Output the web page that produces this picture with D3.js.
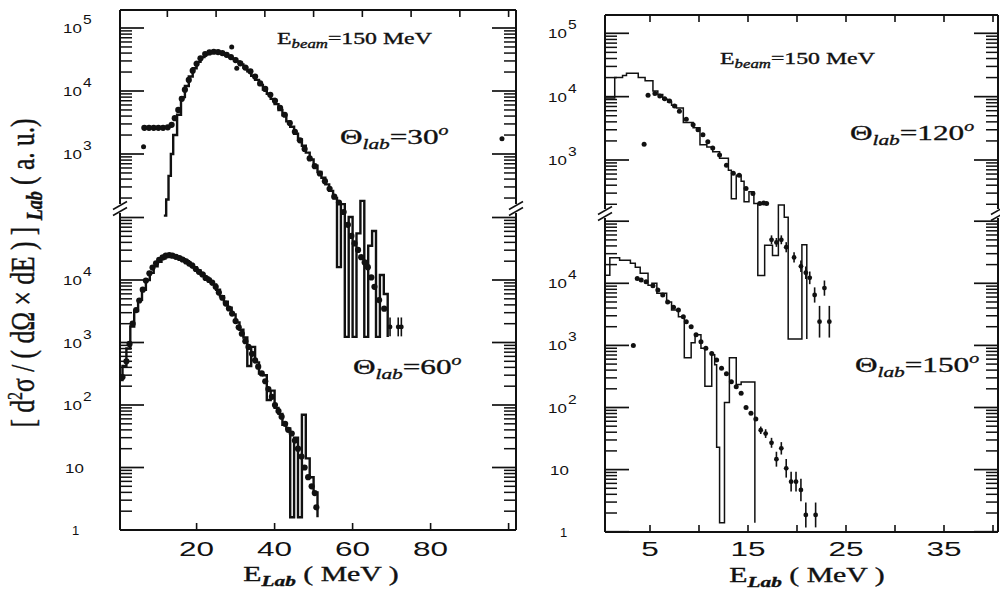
<!DOCTYPE html>
<html><head><meta charset="utf-8">
<script src="https://cdn.jsdelivr.net/npm/d3@7"></script>
<style>body{margin:0;background:#fff}svg{display:block}</style>
</head><body>
<svg id="c" width="1000" height="613"></svg>
<script>
// ---------------- DATA ----------------
// Left panel, theta = 30 deg (values in the units of the upper axis labels)
const dots30 = [[6.6,2600],[7.8,2600],[9.0,2600],[10.2,2600],[11.4,2600],[12.6,2650],[13.6,2900],[14.4,3700],[15.3,5000],[16.2,7500],[17.0,10500],[18.0,15000],[19.0,21000],[20.0,27000],[21.0,33000],[22.2,38500],[23.3,41000],[24.4,42000],[25.5,41500],[26.6,40000],[27.7,37500],[28.8,34500],[30.0,31000],[31.2,27500],[32.5,23500],[33.8,20500],[35.0,17000],[36.3,13200],[37.6,10800],[38.9,8700],[40.1,7000],[41.4,5400],[42.6,4200],[43.9,3100],[45.2,2250],[46.5,1650],[47.7,1200],[49.0,850],[50.3,640],[51.6,490],[52.9,370],[54.1,280],[55.3,210],[56.5,170],[57.7,120],[58.8,75],[59.7,50],[60.5,38],[61.4,30],[62.2,23],[63.1,19],[63.9,16],[64.8,11],[65.6,7.8],[66.8,4.8],[68.1,3.5]];
const dots30Err = [[69.6,1.8,0.15],[71.7,1.8,0.15],[72.5,1.8,0.15]];
const dots30Lone = [[6.4,1300],[29.0,50000],[30.3,23000],[98.3,1740]];
const hist30 = [[11.6,105],[12.2,190],[12.8,450],[13.4,1000],[14,2000],[15,4200],[16,8000],[17,12000],[18,17000],[19,23000],[20,29000],[21,34500],[22,38500],[23,41000],[24,42000],[25,41500],[26,40000],[27,38000],[28,35500],[29,32500],[30,29500],[31,26500],[32,23500],[33,20500],[34,17500],[35,15000],[36,12500],[37,10500],[38,9000],[39,7500],[40,6200],[41,5000],[42,4100],[43,3300],[44,2700],[45,2100],[46,1700],[47,1350],[48,1050],[49,820],[50,650],[51,520],[52,420],[53,330],[54,260],[55,200],[56,16],[57,160],[58,1.25],[59,100],[60,1.25],[61,55],[62,180],[63,1.25],[64,35],[65,60],[66,1.25],[67,12],[68,6],[69,1.25]];

// Left panel, theta = 60 deg (lower axis units)
const dots60 = [[1.0,280],[2.0,500],[2.8,950],[3.6,2000],[4.5,3300],[5.3,4700],[6.2,7000],[7.0,9800],[7.9,12800],[8.7,15800],[9.6,18500],[10.4,21000],[11.3,23000],[12.1,24500],[13.0,25000],[13.8,24500],[14.7,23500],[15.6,22500],[16.4,21300],[17.3,19800],[18.1,18300],[18.9,17000],[19.8,15000],[20.6,13500],[21.5,12300],[22.3,10800],[23.2,10000],[24.0,9100],[24.9,7800],[25.7,6300],[26.6,5200],[27.5,4200],[28.3,3500],[29.1,2900],[30.0,2200],[30.8,1750],[31.6,1380],[32.5,1050],[33.3,850],[34.2,660],[35.0,520],[35.8,410],[36.7,320],[37.6,240],[38.4,180],[39.3,135],[40.1,100],[41.0,80],[41.8,65],[42.7,50],[43.5,40],[44.4,35],[45.2,27],[46.0,20],[46.9,15],[47.7,10],[48.6,7],[49.5,5],[50.3,3.9],[50.7,2.3]];
const hist60 = [[0.3,250],[1,420],[2,800],[3,1800],[4,3200],[5,4800],[6,7000],[7,10000],[8,13000],[9,16500],[10,19500],[11,22000],[12,24000],[13,24800],[14,24200],[15,23000],[16,21500],[17,20000],[18,18000],[19,16000],[20,14200],[21,12500],[22,11000],[23,9600],[24,8500],[25,7000],[26,5500],[27,4500],[28,3600],[29,2800],[30,2100],[31,1600],[32,1200],[33,420],[34,850],[35,480],[36,320],[37,300],[38,120],[39,170],[40,90],[41,72],[42,48],[43,42],[44,1.6],[45,30],[46,1.6],[47,70],[48,14],[49,7],[50,4],[51,1.6]];

// Right panel, theta = 120 deg (upper axis units)
const dots120 = [[4.8,10500],[5.5,11200],[6.0,10200],[6.5,9300],[7.0,8500],[7.5,7100],[8.0,5900],[8.7,4400],[9.4,3600],[9.9,3000],[10.4,2500],[10.9,1950],[11.4,1550],[12.1,1200],[12.8,830],[13.5,620],[14.1,575],[14.8,355],[15.5,295],[16.2,205],[16.6,210],[16.9,205]];
const dots120Err = [[17.4,55,0.07],[17.9,50,0.07],[18.4,55,0.07],[18.9,42,0.08],[19.7,29,0.08],[20.4,21,0.09],[20.9,16.6,0.1],[21.3,13.8,0.1],[21.8,7.4,0.12],[22.8,9.5,0.12],[22.3,2.8,0.25],[23.3,2.8,0.25]];
const dots120Lone = [[4.4,1780]];
const hist120 = [[0.4,9500],[1.4,20000],[2.2,21500],[2.6,23500],[3.8,20000],[4.5,17800],[5.3,12300],[5.8,10800],[6.3,9100],[6.8,8200],[7.2,7300],[7.7,6600],[8.4,3900],[9.4,3240],[10.1,1740],[10.8,1600],[11.4,1350],[12.1,1070],[13.0,690],[13.3,245],[13.8,575],[14.3,460],[14.6,220],[15.1,316],[15.6,205],[16.0,15],[16.7,45],[17.5,31],[18.1,195],[18.7,125],[19.1,1.5],[20.5,46],[21.0,1.5]];

// Right panel, theta = 150 deg (lower axis units)
const dots150 = [[3.7,12000],[4.1,11300],[4.6,10600],[5.3,9100],[5.8,7800],[6.3,6500],[6.8,5000],[7.4,4100],[7.9,3700],[8.4,2900],[8.7,2400],[9.2,2000],[9.7,1480],[10.2,1150],[10.7,900],[11.3,740],[11.8,580],[12.3,430],[12.8,350],[13.3,260],[13.8,215],[14.3,170],[14.8,100],[15.3,81],[15.8,65]];
const dots150Err = [[16.3,43,0.06],[16.8,38,0.07],[17.4,27,0.08],[17.9,14.7,0.12],[18.4,22,0.1],[18.9,10.5,0.15],[19.4,6.4,0.16],[19.9,6.4,0.16],[20.4,4.7,0.18],[20.9,1.86,0.2],[21.9,1.86,0.2]];
const dots150Lone = [[3.3,1000]];
const hist150 = [[0.4,13500],[0.9,25700],[1.9,23500],[3.0,21000],[3.5,18200],[4.0,14500],[4.8,9300],[5.2,10000],[5.7,6900],[6.7,5000],[7.2,3700],[7.9,2900],[8.5,630],[9.2,1100],[9.6,1480],[10.2,900],[10.6,220],[11.3,710],[11.6,490],[11.8,23],[12.1,1.4],[12.6,120],[13.1,630],[13.8,235],[14.3,257],[15.7,1.4]];

// Tick values / labels
const yLabelsUpper = [1e3,1e4,1e5];
const yLabelsLower = [1,10,1e2,1e3,1e4];
const xTicksLeftBottom = [20,40,60,80,100];
const xLabelsLeft = [20,40,60,80];
const xTicksLeftTop = [12.5,25,37.5,50,62.5,75,87.5,100];
const xTicksRight = [5,10,15,20,25,30,35,40];
const xLabelsRight = [5,15,25,35];

// ---------------- LAYOUT ----------------
const SERIF = "'Liberation Serif','Times New Roman',serif";
const SANS = "'Liberation Sans',Arial,sans-serif";
const INK = "#111";
const svg = d3.select("#c");

const panels = [
  {id:"L", left:120, right:516, top:10, bottom:530, xd:[0,100], xr:[118.6,508.6],
   up:{d:[1e3,1e5], r:[154,28], seg:[10,204]}, lo:{d:[1,1e4], r:[530,280], seg:[213,530]},
   brk:208.5, xTB:xTicksLeftBottom, xTT:xTicksLeftTop, xL:xLabelsLeft, labX:63, labX1:70},
  {id:"R", left:605, right:998, top:15, bottom:532, xd:[0,40], xr:[601,993],
   up:{d:[1e3,1e5], r:[160,33.3], seg:[15,209]}, lo:{d:[1,1e4], r:[531.7,283.3], seg:[218,532]},
   brk:213.5, xTB:xTicksRight, xTT:xTicksRight, xL:xLabelsRight, labX:548, labX1:558}
];

panels.forEach(p=>{
  p.x = d3.scaleLinear().domain(p.xd).range(p.xr);
  p.yU = d3.scaleLog().domain(p.up.d).range(p.up.r);
  p.yL = d3.scaleLog().domain(p.lo.d).range(p.lo.r);
  const g = svg.append("g");
  p.g = g;
  g.append("line").attr("x1",p.left).attr("x2",p.right).attr("y1",p.top).attr("y2",p.top).attr("stroke",INK).attr("stroke-width",2);
  g.append("line").attr("x1",p.left).attr("x2",p.right).attr("y1",p.bottom).attr("y2",p.bottom).attr("stroke",INK).attr("stroke-width",2);
  [p.left,p.right].forEach((ax,i)=>{
    g.append("line").attr("x1",ax).attr("x2",ax).attr("y1",p.top).attr("y2",p.up.seg[1]).attr("stroke",INK).attr("stroke-width",2);
    g.append("line").attr("x1",ax).attr("x2",ax).attr("y1",p.lo.seg[0]).attr("y2",p.bottom).attr("stroke",INK).attr("stroke-width",2);
    [-3,3].forEach(dy=>{
      g.append("line").attr("x1",ax-7).attr("x2",ax+7).attr("y1",p.brk+dy+4).attr("y2",p.brk+dy-4)
        .attr("stroke",INK).attr("stroke-width",1.5);
    });
    const dir = i===0 ? 1 : -1;
    [[p.yU,p.up.seg],[p.yL,p.lo.seg]].forEach(([sc,seg])=>{
      for(let n=-1;n<=6;n++){
        for(let k=1;k<=9;k++){
          const v=k*Math.pow(10,n);
          const y=sc(v);
          if(y<seg[0]-0.5||y>seg[1]+0.5) continue;
          const len = k===1?24:12;
          g.append("line").attr("x1",ax).attr("x2",ax+dir*len).attr("y1",y).attr("y2",y)
            .attr("stroke",INK).attr("stroke-width",k===1?1.7:1.5);
        }
      }
    });
  });
  p.xTB.forEach(v=>{
    const x=p.x(v); if(x>p.right+1) return;
    g.append("line").attr("x1",x).attr("x2",x).attr("y1",p.bottom).attr("y2",p.bottom-7).attr("stroke",INK).attr("stroke-width",1.6);
  });
  p.xTT.forEach(v=>{
    const x=p.x(v); if(x>p.right+1) return;
    g.append("line").attr("x1",x).attr("x2",x).attr("y1",p.top).attr("y2",p.top+7).attr("stroke",INK).attr("stroke-width",1.6);
  });
  p.xL.forEach(v=>{
    g.append("text").attr("transform",`translate(${p.x(v)},556) scale(1.5,1)`)
      .attr("text-anchor","middle").attr("font-family",SANS).attr("font-size",21).attr("fill",INK).text(v);
  });
  const ylab=(sc,v)=>{
    const y=sc(v)+5;
    const e=Math.round(Math.log10(v));
    if(e===0){
      g.append("text").attr("x",p.labX1+2).attr("y",y).attr("font-family",SANS).attr("font-size",13).attr("fill",INK).text("1");
    } else if(e===1){
      g.append("text").attr("transform",`translate(${p.labX+2},${y}) scale(1.3,1)`).attr("font-family",SANS).attr("font-size",13).attr("fill",INK).text("10");
    } else {
      const t=g.append("text").attr("transform",`translate(${p.labX},${y}) scale(1.3,1)`).attr("font-family",SANS).attr("font-size",13).attr("fill",INK);
      t.append("tspan").text("10");
      t.append("tspan").attr("dy",-9).attr("dx",1).attr("font-size",12).text(e);
    }
  };
  yLabelsUpper.forEach(v=>ylab(p.yU,v));
  yLabelsLower.forEach(v=>ylab(p.yL,v));
  svg.append("clipPath").attr("id","clip"+p.id).append("rect")
    .attr("x",p.left).attr("y",p.top).attr("width",p.right-p.left).attr("height",p.bottom-p.top);
  p.d = svg.append("g").attr("clip-path",`url(#clip${p.id})`);
});

function drawHist(p, ys, data, sw){
  p.d.append("path").attr("d", d3.line().x(d=>p.x(d[0])).y(d=>ys(d[1])).curve(d3.curveStepAfter)(data))
    .attr("fill","none").attr("stroke",INK).attr("stroke-width",sw).attr("stroke-linejoin","miter");
}
function drawDots(p, ys, data, r){
  p.d.selectAll(null).data(data).enter().append("circle")
    .attr("cx",d=>p.x(d[0])).attr("cy",d=>ys(d[1])).attr("r",r).attr("fill",INK);
}
function drawErr(p, ys, data, r){
  p.d.selectAll(null).data(data).enter().append("line")
    .attr("x1",d=>p.x(d[0])).attr("x2",d=>p.x(d[0]))
    .attr("y1",d=>ys(d[1]*Math.pow(10,d[2]))).attr("y2",d=>ys(d[1]/Math.pow(10,d[2])))
    .attr("stroke",INK).attr("stroke-width",1.6);
  drawDots(p, ys, data, r);
}

const PL=panels[0], PR=panels[1];
drawHist(PL, PL.yU, hist30, 2.4);
drawDots(PL, PL.yU, dots30, 3.1);
drawErr(PL, PL.yU, dots30Err, 2.4);
drawDots(PL, PL.yU, dots30Lone, 2.5);
drawHist(PL, PL.yL, hist60, 2.4);
drawDots(PL, PL.yL, dots60, 3.1);

drawHist(PR, PR.yU, hist120, 1.5);
drawDots(PR, PR.yU, dots120, 2.5);
drawErr(PR, PR.yU, dots120Err, 2.4);
drawDots(PR, PR.yU, dots120Lone, 2.5);
drawHist(PR, PR.yL, hist150, 1.5);
drawDots(PR, PR.yL, dots150, 2.5);
drawErr(PR, PR.yL, dots150Err, 2.4);
drawDots(PR, PR.yL, dots150Lone, 2.5);

// ---------------- TEXT ----------------
function serifText(x,y,sx,size,anchor){
  return svg.append("text").attr("transform",`translate(${x},${y}) scale(${sx},1)`).attr("text-anchor",anchor||"start")
    .attr("font-family",SERIF).attr("font-size",size).attr("fill",INK).attr("stroke",INK).attr("stroke-width",0.35);
}
function ebeam(x,y){
  const t=serifText(x,y,1.4,17);
  t.append("tspan").text("E");
  t.append("tspan").attr("dy",4).attr("font-size",12).attr("font-style","italic").text("beam");
  t.append("tspan").attr("dy",-4).text("=150 MeV");
}
function theta(x,y,ang){
  const t=serifText(x,y,1.42,22);
  t.append("tspan").text("\u0398");
  t.append("tspan").attr("dy",5).attr("font-size",15).attr("font-style","italic").text("lab");
  t.append("tspan").attr("dy",-5).text("="+ang);
  t.append("tspan").attr("dy",-9).attr("font-size",14).attr("font-style","italic").text("o");
}
ebeam(277,43.5); ebeam(720,64);
theta(340,144,30); theta(353,374,60); theta(850,140,120); theta(855,372,150);

function elab(cx,y){
  const t=serifText(cx,y,1.42,21,"middle");
  t.append("tspan").text("E");
  t.append("tspan").attr("dy",5).attr("font-size",15).attr("font-style","italic").attr("font-weight","bold").text("Lab");
  t.append("tspan").attr("dy",-5).text(" ( MeV )");
}
elab(321,581); elab(807,582);

const yt=svg.append("text").attr("transform","translate(34,273) rotate(-90) scale(1,1.3)").attr("text-anchor","middle")
  .attr("font-family",SERIF).attr("font-size",25.5).attr("fill",INK).attr("stroke",INK).attr("stroke-width",0.35);
yt.append("tspan").text("[ d");
yt.append("tspan").attr("dy",-9).attr("font-size",16).text("2");
yt.append("tspan").attr("dy",9).text("\u03C3 / ( d\u03A9 \u00D7 dE ) ] ");
yt.append("tspan").attr("dy",6).attr("font-size",18).attr("font-style","italic").attr("font-weight","bold").text("Lab");
yt.append("tspan").attr("dy",-6).text(" ( a. u.)");
</script>
</body></html>
